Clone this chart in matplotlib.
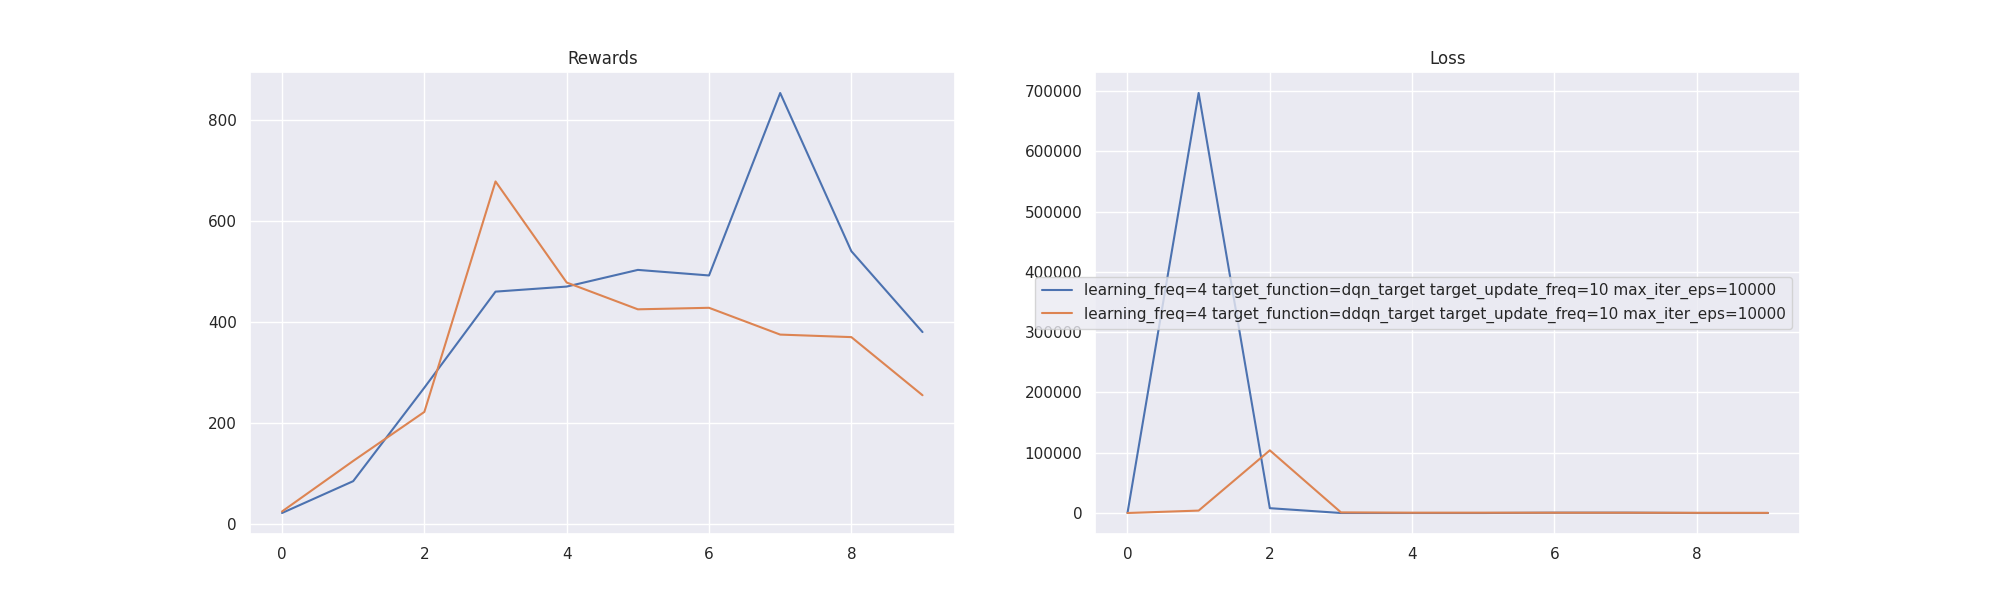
import matplotlib
matplotlib.use("Agg")
from matplotlib import pyplot as plt
import seaborn as sns

sns.set_theme()

episodes = list(range(10))
labels = [
    "learning_freq=4 target_function=dqn_target target_update_freq=10 max_iter_eps=10000",
    "learning_freq=4 target_function=ddqn_target target_update_freq=10 max_iter_eps=10000",
]
rewards_dqn = [22, 85, 270, 460, 470, 503, 492, 853, 540, 380]
rewards_ddqn = [25, 125, 222, 678, 478, 425, 428, 375, 370, 255]
loss_dqn = [0, 697000, 8000, 0, 0, 0, 500, 500, 0, 0]
loss_ddqn = [0, 4000, 104000, 1000, 500, 500, 500, 500, 300, 200]

fig, (ax1, ax2) = plt.subplots(1, 2, figsize=(20, 6), dpi=100)
ax1.plot(episodes, rewards_dqn, label=labels[0])
ax1.plot(episodes, rewards_ddqn, label=labels[1])
ax1.set_title("Rewards")

ax2.plot(episodes, loss_dqn, label=labels[0])
ax2.plot(episodes, loss_ddqn, label=labels[1])
ax2.set_title("Loss")
ax2.legend(loc="center right")

fig.savefig("out.png")
